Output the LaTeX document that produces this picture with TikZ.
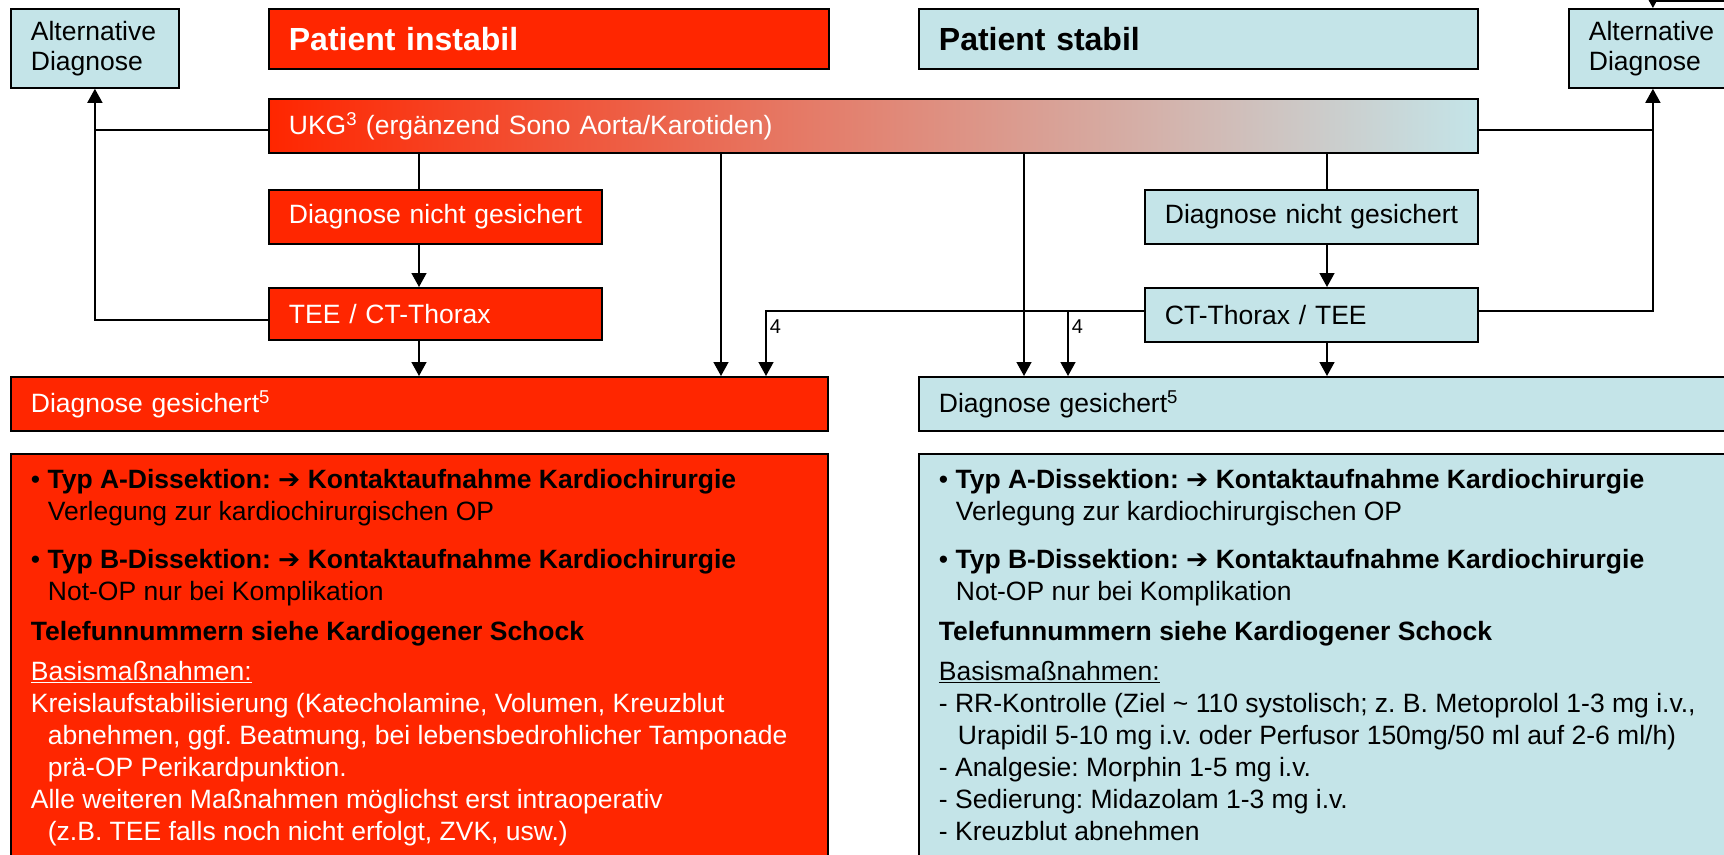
\documentclass[tikz,border=0pt]{standalone}
\usepackage{fontspec}
\setmainfont{Liberation Sans}
\newfontfamily\pfeilfont{DejaVu Sans}
\usetikzlibrary{arrows.meta}
\definecolor{rotfill}{RGB}{255,38,0}
\definecolor{blaufill}{RGB}{196,228,232}
\frenchspacing

\tikzset{
  kasten/.style={draw=black, line width=1.8pt, anchor=north west, inner xsep=20pt,
    inner ysep=0pt, align=left, font=\fontsize{26.5}{30}\selectfont},
  rot/.style={kasten, fill=rotfill, text=white},
  blau/.style={kasten, fill=blaufill, text=black},
  titel/.style={font=\bfseries\fontsize{32}{36}\selectfont},
  info/.style={draw=black, line width=1.8pt, anchor=north west, inner xsep=20pt,
    inner ysep=15pt, font=\fontsize{26.5}{32}\selectfont},
  pfeil/.style={line width=1.5pt, -{Triangle[length=14pt,width=15pt]}},
  linie/.style={line width=1.5pt},
  vier/.style={font=\fontsize{20}{24}\selectfont, anchor=west, inner sep=3pt}
}

\begin{document}
\begin{tikzpicture}[x=1pt, y=-1pt]
    \useasboundingbox (0,0) rectangle (1724,854);
    \clip (0,0) rectangle (1724,854);
    % Kopfzeile
    \node[blau, text width=128, minimum height=79] (altl) at (10,8) {Alternative\\Diagnose};
    \node[rot, titel, text width=520, minimum height=60] (pi) at (268,8) {Patient instabil};
    \node[blau, titel, text width=519, minimum height=60] (ps) at (918,8) {Patient stabil};
    \node[blau, text width=128, minimum height=79] (altr) at (1568,8) {Alternative\\Diagnose};
    % UKG mit Verlauf rot -> blau
    \node[kasten, left color=rotfill, right color=blaufill, text=white,
      text width=1169, minimum height=54] (ukg) at (268,98)
      {UKG\textsuperscript{3} (ergänzend Sono Aorta/Karotiden)};
    % linke Spalte
    \node[rot, text width=293, minimum height=54] (dnl) at (268,189) {\mbox{Diagnose nicht gesichert}};
    \node[rot, text width=293, minimum height=52] (tee) at (268,287) {TEE / CT-Thorax};
    \node[rot, text width=777, minimum height=54] (dgl) at (10,376) {Diagnose gesichert\textsuperscript{5}};
    % rechte Spalte
    \node[blau, text width=293, minimum height=54] (dnr) at (1144,189) {\mbox{Diagnose nicht gesichert}};
    \node[blau, text width=293, minimum height=54] (ctr) at (1144,287) {CT-Thorax / TEE};
    \node[blau, text width=800, minimum height=54] (dgr) at (918,376) {Diagnose gesichert\textsuperscript{5}};
    % Massnahmen
    \node[info, fill=rotfill, text=white] (infl) at (10,453) {\parbox[t][400pt][t]{777pt}{%
      \color{black}\rule{0pt}{20pt}\textbullet\ \textbf{Typ A-Dissektion: {\pfeilfont ➔} Kontaktaufnahme Kardiochirurgie}\\
      \hspace*{17pt}Verlegung zur kardiochirurgischen OP\\[16pt]
      \textbullet\ \textbf{Typ B-Dissektion: {\pfeilfont ➔} Kontaktaufnahme Kardiochirurgie}\\
      \hspace*{17pt}Not-OP nur bei Komplikation\\[8pt]
      \textbf{Telefunnummern siehe Kardiogener Schock}\\[8pt]
      \color{white}\underline{Basismaßnahmen:}\\
      Kreislaufstabilisierung (Katecholamine, Volumen, Kreuzblut\\
      \hspace*{17pt}abnehmen, ggf. Beatmung, bei lebensbedrohlicher Tamponade\\
      \hspace*{17pt}prä-OP Perikardpunktion.\\
      Alle weiteren Maßnahmen möglichst erst intraoperativ\\
      \hspace*{17pt}(z.B. TEE falls noch nicht erfolgt, ZVK, usw.)}};
    \node[info, fill=blaufill, text=black] (infr) at (918,453) {\parbox[t][400pt][t]{800pt}{%
      \rule{0pt}{20pt}\textbullet\ \textbf{Typ A-Dissektion: {\pfeilfont ➔} Kontaktaufnahme Kardiochirurgie}\\
      \hspace*{17pt}Verlegung zur kardiochirurgischen OP\\[16pt]
      \textbullet\ \textbf{Typ B-Dissektion: {\pfeilfont ➔} Kontaktaufnahme Kardiochirurgie}\\
      \hspace*{17pt}Not-OP nur bei Komplikation\\[8pt]
      \textbf{Telefunnummern siehe Kardiogener Schock}\\[8pt]
      \underline{Basismaßnahmen:}\\
      - RR-Kontrolle (Ziel \textasciitilde{} 110 systolisch; z. B. Metoprolol 1-3 mg i.v.,\\
      \hspace*{19pt}Urapidil 5-10 mg i.v. oder Perfusor 150mg/50 ml auf 2-6 ml/h)\\
      - Analgesie: Morphin 1-5 mg i.v.\\
      - Sedierung: Midazolam 1-3 mg i.v.\\
      - Kreuzblut abnehmen}};
    % Abzweige
    \coordinate (xl) at (419,0);
    \coordinate (xm) at (721,0);
    \coordinate (xn) at (766,0);
    \coordinate (xq) at (1024,0);
    \coordinate (xr) at (1068,0);
    \coordinate (xs) at (1327,0);
    \coordinate (oben) at (1760,1);
    % Verbindungen links
    \draw[pfeil] ([yshift=-4pt]ukg.west) -| (altl.south);
    \draw[linie] ([yshift=-6pt]tee.west) -| ([yshift=-4pt]ukg.west -| altl.south);
    \draw[linie] (ukg.south -| xl) -- (dnl.north -| xl);
    \draw[pfeil] (dnl.south -| xl) -- (tee.north -| xl);
    \draw[pfeil] (tee.south -| xl) -- (dgl.north -| xl);
    \draw[pfeil] (ukg.south -| xm) -- (dgl.north -| xm);
    \draw[pfeil] ([yshift=4pt]ctr.west) -| node[vier, pos=0.62] {4} (dgl.north -| xn);
    % Verbindungen rechts
    \draw[pfeil] (ukg.south -| xq) -- (dgr.north -| xq);
    \draw[pfeil] ([yshift=4pt]ctr.west -| xr) -- node[vier, pos=0.24] {4} (dgr.north -| xr);
    \draw[linie] (ukg.south -| xs) -- (dnr.north -| xs);
    \draw[pfeil] (dnr.south -| xs) -- (ctr.north -| xs);
    \draw[pfeil] (ctr.south -| xs) -- (dgr.north -| xs);
    \draw[pfeil] ([yshift=-4pt]ukg.east) -| (altr.south);
    \draw[linie] ([yshift=4pt]ctr.east) -| ([yshift=-4pt]ukg.east -| altr.south);
    \draw[pfeil] (oben) -| (altr.north);
\end{tikzpicture}
\end{document}
